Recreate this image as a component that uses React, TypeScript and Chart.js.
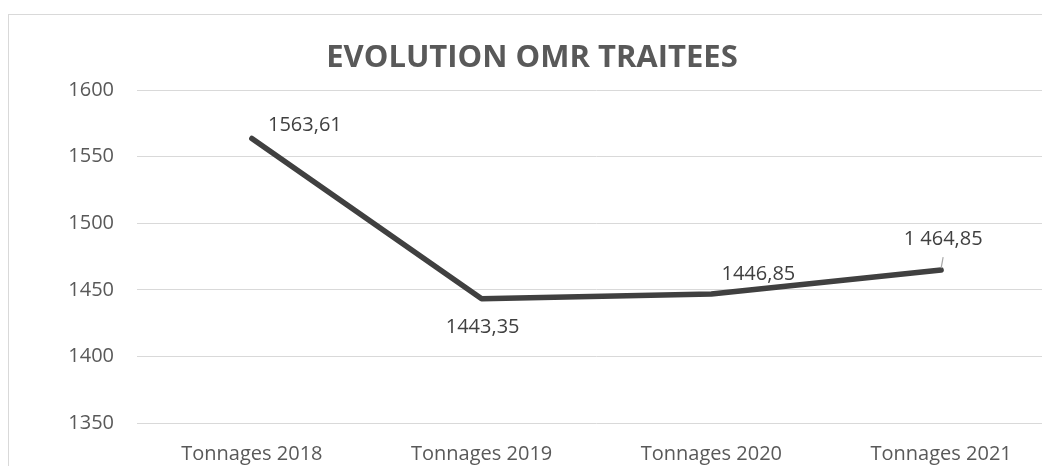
import React, { useEffect, useRef } from "react";
import { Chart, registerables } from "chart.js";

Chart.register(...registerables);

const categories = ["Tonnages 2018", "Tonnages 2019", "Tonnages 2020", "Tonnages 2021"];
const values = [1563.61, 1443.35, 1446.85, 1464.85];
const valueLabels = ["1563,61", "1443,35", "1446,85", "1 464,85"];
const labelOffsets = [
  [53, -13],
  [1, 29],
  [47, -20],
  [2, -31],
];
const titleText = "EVOLUTION OMR TRAITEES";
const yMin = 1350;
const yMax = 1600;
const yStep = 50;

const FONT = "'Open Sans', 'Noto Sans', sans-serif";

const decorPlugin = {
  id: "decor",
  beforeDraw(chart: any) {
    const ctx = chart.ctx;
    ctx.save();
    ctx.fillStyle = "#ffffff";
    ctx.fillRect(0, 0, chart.width, chart.height);
    ctx.strokeStyle = "#d9d9d9";
    ctx.lineWidth = 1;
    ctx.strokeRect(8.5, 14.5, 3000, 3000);
    ctx.restore();
  },
  afterDatasetsDraw(chart: any) {
    const ctx = chart.ctx;
    const meta = chart.getDatasetMeta(0);
    ctx.save();
    // title
    ctx.fillStyle = "#595959";
    ctx.font = `bold 31px ${FONT}`;
    ctx.textAlign = "center";
    ctx.textBaseline = "middle";
    ctx.fillText(titleText, 532, 58);
    // labels
    ctx.font = `20px ${FONT}`;
    ctx.fillStyle = "#404040";
    meta.data.forEach((pt: any, i: number) => {
      const [dx, dy] = labelOffsets[i];
      const lx = pt.x + dx;
      const ly = pt.y + dy;
      if (i === 3) {
        ctx.strokeStyle = "#a6a6a6";
        ctx.lineWidth = 1.2;
        ctx.beginPath();
        ctx.moveTo(pt.x, pt.y - 2);
        ctx.lineTo(pt.x + 2, ly + 18);
        ctx.stroke();
      }
      ctx.fillText(valueLabels[i], lx, ly);
    });
    ctx.restore();
  },
};

export default function App() {
  const ref = useRef<HTMLCanvasElement | null>(null);
  useEffect(() => {
    if (!ref.current) return;
    const chart = new Chart(ref.current, {
      type: "line",
      data: {
        labels: categories,
        datasets: [
          {
            data: values,
            borderColor: "#404040",
            borderWidth: 5.5,
            borderCapStyle: "round",
            borderJoinStyle: "round",
            pointRadius: 0,
            tension: 0,
            fill: false,
          },
        ],
      },
      options: {
        animation: false,
        responsive: false,
        maintainAspectRatio: false,
        layout: { padding: { top: 90, left: 0, right: 0, bottom: 0 } },
        plugins: {
          legend: { display: false },
          title: { display: false },
          tooltip: { enabled: false },
        },
        scales: {
          x: {
            offset: true,
            grid: { display: false, drawTicks: false },
            border: { display: false },
            ticks: {
              color: "#595959",
              font: { family: FONT, size: 20 },
              padding: 19,
              maxRotation: 0,
              autoSkip: false,
            },
            afterFit(scale: any) {
              scale.height = 43;
            },
          },
          y: {
            min: yMin,
            max: yMax,
            grid: { color: "#d9d9d9", lineWidth: 1, drawTicks: false },
            border: { display: false },
            ticks: {
              stepSize: yStep,
              color: "#595959",
              font: { family: FONT, size: 20 },
              padding: 23,
              callback: (v: any) => String(v),
            },
            afterFit(scale: any) {
              scale.width = 137;
            },
          },
        },
      },
      plugins: [decorPlugin],
    });
    return () => chart.destroy();
  }, []);
  return (
    <div
      style={{
        position: "fixed",
        left: 0,
        top: 0,
        width: 1042,
        height: 466,
        overflow: "hidden",
        background: "#fff",
      }}
    >
      <canvas ref={ref} width={1056} height={466} style={{ display: "block" }} />
    </div>
  );
}
